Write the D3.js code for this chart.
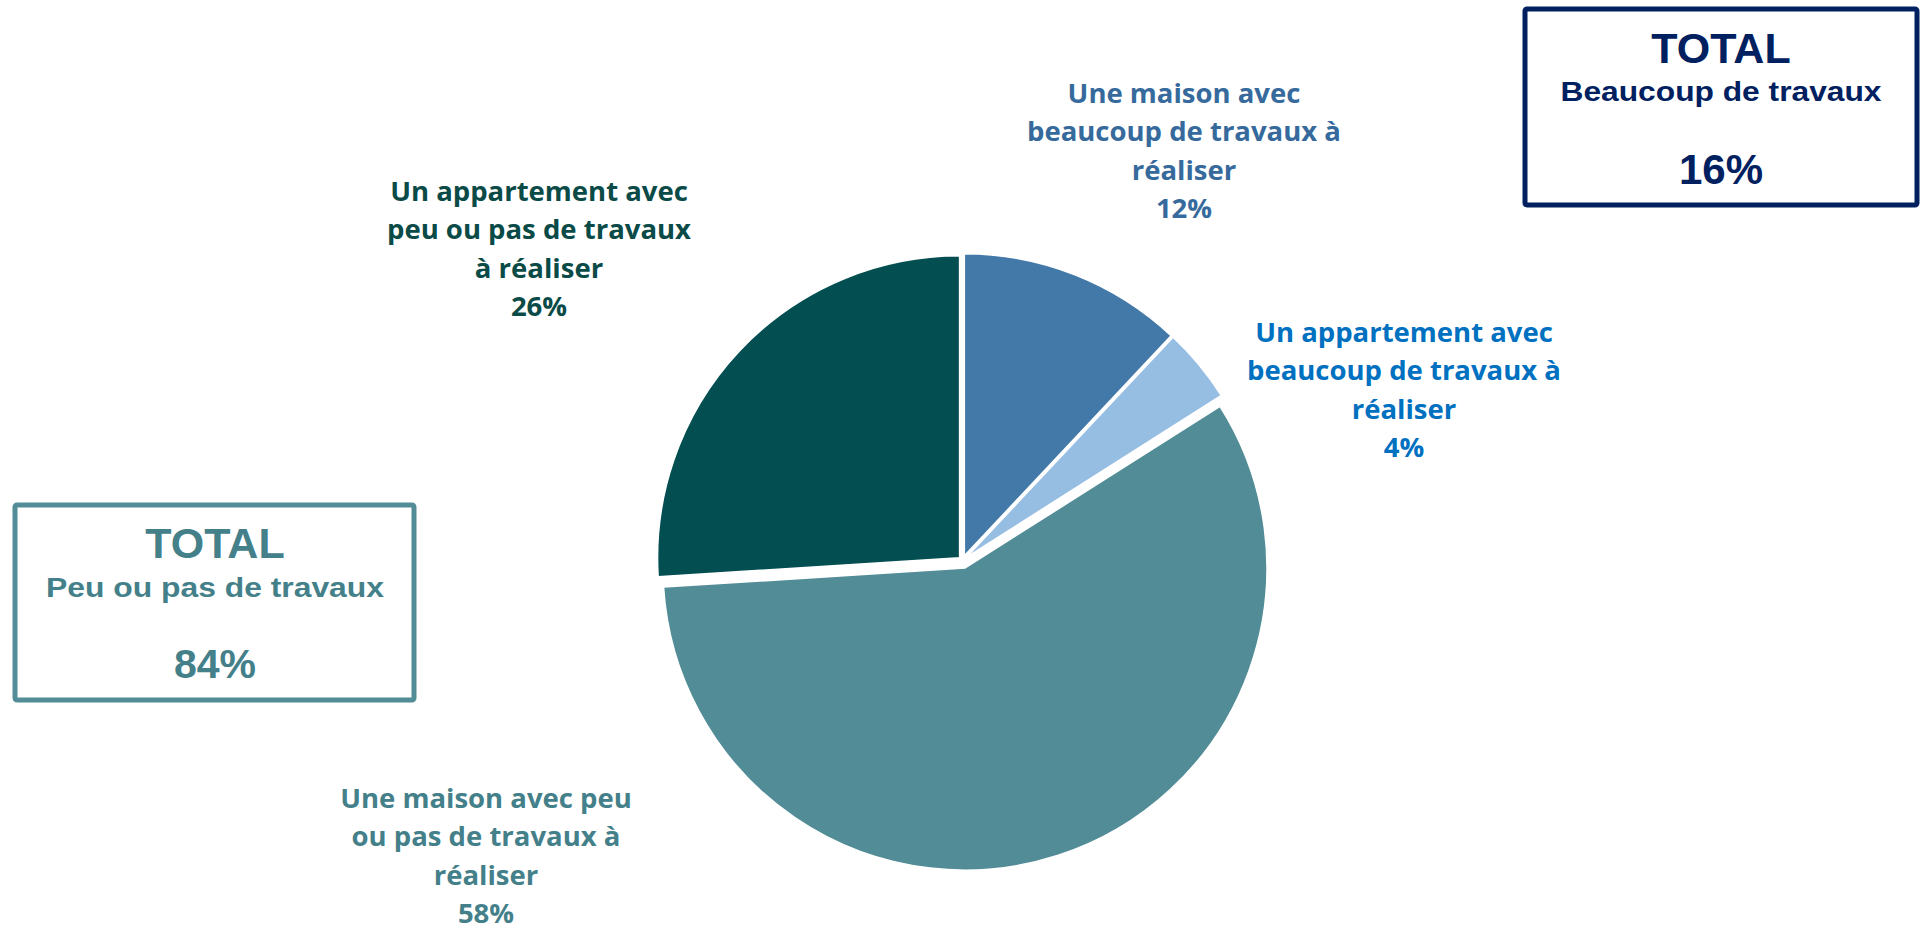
<!DOCTYPE html>
<html>
<head>
<meta charset="utf-8">
<script src="https://cdn.jsdelivr.net/npm/d3@7"></script>
<style>
  html, body { margin: 0; padding: 0; background: #ffffff; overflow: hidden; }
  svg { display: block; }
</style>
</head>
<body>
<svg id="chart" width="1925" height="931"></svg>
<script>
// ---------- DATA ----------
const categories = [
  "Une maison avec beaucoup de travaux à réaliser",
  "Un appartement avec beaucoup de travaux à réaliser",
  "Une maison avec peu ou pas de travaux à réaliser",
  "Un appartement avec peu ou pas de travaux à réaliser"
];
const labelLines = [
  ["Une maison avec", "beaucoup de travaux à", "réaliser"],
  ["Un appartement avec", "beaucoup de travaux à", "réaliser"],
  ["Une maison avec peu", "ou pas de travaux à", "réaliser"],
  ["Un appartement avec", "peu ou pas de travaux", "à réaliser"]
];
const values = [12, 4, 58, 26];
const totalTitles = ["Beaucoup de travaux", "Peu ou pas de travaux"];
const totalValues = [16, 84];

// ---------- STYLE / LAYOUT ----------
const sliceColors = ["#4279A8", "#96BDE2", "#528C96", "#034E51"];
const labelColors = ["#366A9C", "#0070C0", "#44808A", "#0A4A47"];
const explode = [5, 5, 8, 4];
const labelPos = [[1184, 103], [1404, 342], [486, 808], [539, 201]];
const lineStep = 38.3;
const cx = 962.5, cy = 560.5, R = 302;

const svg = d3.select("#chart");

// ---------- PIE ----------
const pie = d3.pie().sort(null).value(d => d)
  .startAngle(0).endAngle(2 * Math.PI);
const arcs = pie(values);
const arc = d3.arc().innerRadius(0).outerRadius(R);

const g = svg.append("g").attr("transform", `translate(${cx},${cy})`);
g.selectAll("path.slice")
  .data(arcs)
  .join("path")
  .attr("class", "slice")
  .attr("d", arc)
  .attr("fill", (d, i) => sliceColors[i])
  .attr("stroke", "#ffffff")
  .attr("stroke-width", 1.5)
  .attr("transform", (d, i) => {
    const mid = (d.startAngle + d.endAngle) / 2;
    return `translate(${explode[i] * Math.sin(mid)},${-explode[i] * Math.cos(mid)})`;
  });

// ---------- DATA LABELS ----------
arcs.forEach((d, i) => {
  const [lx, ly] = labelPos[i];
  const t = svg.append("text")
    .attr("x", lx).attr("y", ly)
    .attr("text-anchor", "middle")
    .attr("font-family", "'Open Sans', 'Noto Sans', sans-serif")
    .attr("font-weight", 700)
    .attr("font-size", "27.5px")
    .attr("fill", labelColors[i]);
  const lines = labelLines[i].concat([d3.format(".0f")(values[i]) + "%"]);
  lines.forEach((ln, k) => {
    t.append("tspan").attr("x", lx).attr("y", ly + k * lineStep).text(ln);
  });
});

// ---------- TOTAL BOXES ----------
const boxes = [
  { x: 1525, y: 9, w: 392, h: 196, color: "#002060", text: "#002060",
    cxT: 1721, y1: 63, y2: 101, y3: 184, subW: 321, fs3: 42 },
  { x: 15, y: 505, w: 399, h: 195, color: "#528C96", text: "#44808A",
    cxT: 215, y1: 558, y2: 597, y3: 678, subW: 338, fs3: 41 }
];
boxes.forEach((b, i) => {
  svg.append("rect")
    .attr("x", b.x).attr("y", b.y).attr("width", b.w).attr("height", b.h)
    .attr("rx", 2).attr("ry", 2)
    .attr("fill", "#ffffff").attr("stroke", b.color).attr("stroke-width", 5);
  const font = "'Liberation Sans', Arial, sans-serif";
  svg.append("text").attr("x", b.cxT).attr("y", b.y1)
    .attr("text-anchor", "middle").attr("font-family", font).attr("font-weight", 700)
    .attr("font-size", "43px").attr("fill", b.text).text("TOTAL");
  svg.append("text").attr("x", b.cxT).attr("y", b.y2)
    .attr("text-anchor", "middle").attr("font-family", font).attr("font-weight", 700)
    .attr("font-size", "27px").attr("fill", b.text)
    .attr("textLength", b.subW).attr("lengthAdjust", "spacingAndGlyphs")
    .text(totalTitles[i]);
  svg.append("text").attr("x", b.cxT).attr("y", b.y3)
    .attr("text-anchor", "middle").attr("font-family", font).attr("font-weight", 700)
    .attr("font-size", b.fs3 + "px").attr("fill", b.text)
    .text(d3.format(".0f")(totalValues[i]) + "%");
});
</script>
</body>
</html>
